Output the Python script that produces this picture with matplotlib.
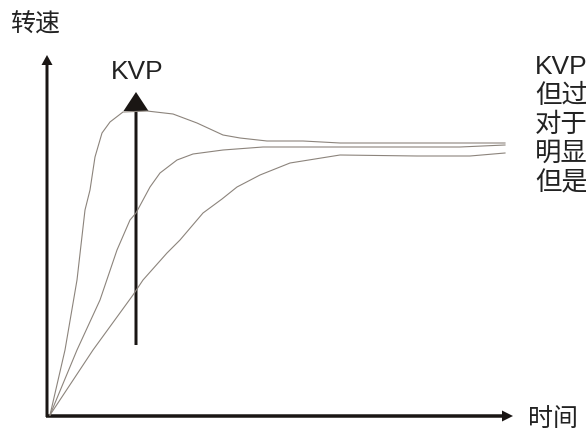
import matplotlib.pyplot as plt

# speed response curves, (time, speed)
t_fast = [3, 18, 30, 38, 43, 48, 55, 63, 76, 100, 126, 150, 176, 193, 220, 256, 293, 373, 458]
v_fast = [1, 66, 136, 206, 226, 259, 283, 294, 304, 305, 302, 293, 281, 278, 275, 275, 273, 273, 273]

t_mid = [3, 30, 53, 70, 83, 89, 103, 113, 130, 146, 176, 216, 293, 413, 458]
v_mid = [1, 66, 116, 166, 196, 203, 229, 243, 256, 262, 266, 269, 269, 269, 271]

t_slow = [3, 46, 86, 96, 120, 133, 156, 175, 190, 213, 243, 293, 370, 423, 458]
v_slow = [1, 66, 121, 136, 163, 176, 203, 217, 229, 241, 253, 261, 260, 260, 263]

note_lines = ["KVP", "但过", "对于", "明显", "但是"]

plt.rcParams['font.family'] = ['Liberation Sans', 'Noto Sans CJK SC', 'DejaVu Sans']

fig = plt.figure(figsize=(5.86, 4.34), dpi=100)
ax = fig.add_axes([0, 0, 1, 1])
ax.set_xlim(-47, 539)
ax.set_ylim(-18, 416)
ax.axis('off')

curve_color = '#8c847c'
for t, v in [(t_fast, v_fast), (t_mid, v_mid), (t_slow, v_slow)]:
    ax.plot(t, v, color=curve_color, lw=0.8)

# axes arrows
ax.arrow(-1, 0, 467, 0, width=3.5, head_width=11, head_length=11,
         length_includes_head=True, color='#1a1614', lw=0)
ax.arrow(0, -1, 0, 362, width=3, head_width=11, head_length=10,
         length_includes_head=True, color='#1a1614', lw=0)

# KVP arrow
ax.arrow(89, 71, 0, 253, width=3, head_width=25, head_length=19,
         length_includes_head=True, color='#1a1614', lw=0)

txt = '#222222'
ax.text(-37, 391, "转速", fontsize=18, color=txt, ha='left', va='center')
ax.text(90, 344, "KVP", fontsize=19, color=txt, ha='center', va='center')
ax.text(481, -3, "时间", fontsize=18, color=txt, ha='left', va='center')

# side note, cut off by the right edge as in the source image
for i, line in enumerate(note_lines):
    ax.text(488, 349 - 29 * i, line, fontsize=19, color=txt,
            ha='left', va='center')

fig.savefig('out.png', dpi=100)
